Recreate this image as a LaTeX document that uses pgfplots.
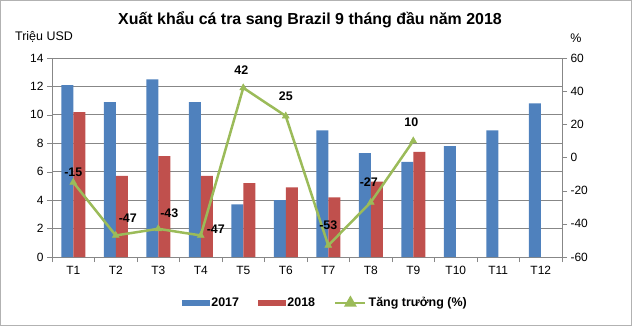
\documentclass[border=0pt]{standalone}
\usepackage{fontspec}
\setmainfont{Liberation Sans}
\usepackage{pgfplots}
\usepackage{pgfplotstable}
\pgfplotsset{compat=1.18}
\definecolor{c17}{HTML}{4F81BD}
\definecolor{c18}{HTML}{C0504D}
\definecolor{cg}{HTML}{9BBB59}
\definecolor{gridc}{HTML}{878787}
\pgfplotstableread{
x y2017
1 12.1
2 10.9
3 12.5
4 10.9
5 3.7
6 4.0
7 8.9
8 7.3
9 6.7
10 7.8
11 8.9
12 10.8
}\tabA
\pgfplotstableread{
x y2018
1 10.2
2 5.7
3 7.1
4 5.7
5 5.2
6 4.9
7 4.2
8 5.3
9 7.4
}\tabB
\pgfplotstableread{
x g dx dy
1 -15 0 10
2 -47 12 17
3 -43 11 16
4 -47 15 6
5 42 -2 18
6 25 0 20
7 -53 0 20
8 -27 -2 20
9 10 -2 19
}\tabC
\begin{document}
\begin{tikzpicture}[x=1bp,y=1bp]
\draw[gray!60, line width=1bp] (0.5,0.5) rectangle (631.5,325.5);
\node[font=\bfseries\fontsize{16}{18}\selectfont] at (310,306) {Xuất khẩu cá tra sang Brazil 9 tháng đầu năm 2018};
\node[font=\fontsize{12.5}{14}\selectfont] at (44,289) {Triệu USD};
\node[font=\fontsize{12.5}{14}\selectfont] at (576,288) {\%};
\begin{axis}[
  at={(52bp,69bp)}, anchor=south west, scale only axis,
  width=510bp, height=199bp,
  xmin=0.5, xmax=12.5, ymin=0, ymax=14,
  ytick={0,2,...,14},
  xtick={1,...,12},
  xticklabels={T1,T2,T3,T4,T5,T6,T7,T8,T9,T10,T11,T12},
  minor xtick={0.5,1.5,...,12.5},
  major x tick style={draw=none},
  minor x tick style={gridc},
  minor tick length=5bp,
  axis x line*=bottom, axis y line*=left,
  axis line style={gridc},
  y tick style={gridc},
  tick align=outside, major tick length=5bp,
  ymajorgrids, grid style={gridc, line width=0.8bp},
  ybar, bar width=12bp,
  tick label style={font=\fontsize{12}{14}\selectfont},
  xticklabel style={yshift=-1bp},
  /pgf/number format/assume math mode=true,
  clip=false,
]
\addplot[fill=c17, draw=none, bar shift=-6bp] table[x=x,y=y2017] {\tabA};
\addplot[fill=c18, draw=none, bar shift=6bp] table[x=x,y=y2018] {\tabB};
\end{axis}
\begin{axis}[
  at={(52bp,69bp)}, anchor=south west, scale only axis,
  width=510bp, height=199bp,
  xmin=0.5, xmax=12.5, ymin=-60, ymax=60,
  ytick={-60,-40,...,60},
  axis x line=none, axis y line*=right,
  axis line style={gridc},
  y tick style={gridc},
  tick align=outside, major tick length=5bp,
  tick label style={font=\fontsize{12}{14}\selectfont},
  /pgf/number format/assume math mode=true,
  clip=false,
  legend style={at={(0.536,-0.231)}, anchor=center, draw=none, fill=none,
    legend columns=3, font=\bfseries\fontsize{12.5}{14}\selectfont,
    /tikz/every odd column/.append style={column sep=0bp},
    /tikz/every even column/.append style={column sep=17bp},
    nodes={inner xsep=2bp}},
]
\addlegendimage{legend image code/.code={\fill[c17] (0bp,-2.5bp) rectangle (27bp,2.5bp);}}
\addlegendentry{2017}
\addlegendimage{legend image code/.code={\fill[c18] (0bp,-2.5bp) rectangle (27bp,2.5bp);}}
\addlegendentry{2018}
\addplot[cg, line width=2.5bp, mark=triangle*, mark size=4bp, mark options={fill=cg, line width=0.5bp},
  legend image code/.code={\draw[cg, line width=2.5bp] (0bp,0bp) -- (30bp,0bp);
     \fill[cg] (15bp,0bp) ++(90:5bp) -- ++(-120:8.66bp) -- ++(0:8.66bp) -- cycle;},
  nodes near coords, point meta=explicit,
  visualization depends on={\thisrow{dx} \as \dx},
  visualization depends on={\thisrow{dy} \as \dy},
  every node near coord/.append style={anchor=center, xshift=\dx bp, yshift=\dy bp, text=black,
    font=\bfseries\fontsize{12.5}{14}\selectfont, /pgf/number format/assume math mode=true}
] table[x=x,y=g,meta=g] {\tabC};
\addlegendentry{Tăng trưởng (\%)}
\end{axis}
\end{tikzpicture}
\end{document}
